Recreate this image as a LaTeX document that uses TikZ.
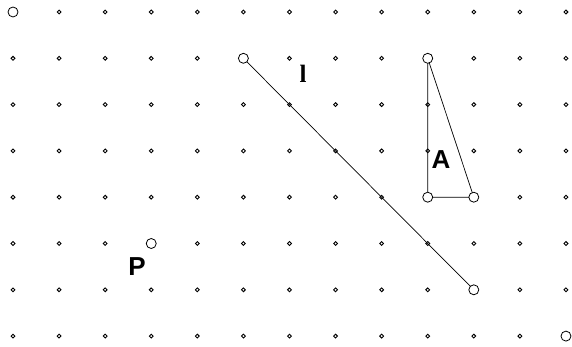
\documentclass[tikz,border=0pt]{standalone}
\usepackage{fontspec}
\usetikzlibrary{shapes.geometric}
\setmainfont{Liberation Serif}
\setsansfont{Liberation Sans}
\begin{document}
\begin{tikzpicture}[x=1pt,y=1pt,
  gdot/.style={diamond,draw=black,fill=white,line width=0.9pt,inner sep=0pt,minimum size=4.2pt},
  gpt/.style={circle,draw=black,fill=white,line width=0.8pt,inner sep=0pt,minimum size=10pt},
  seg/.style={draw=black,line width=0.7pt},
  sflab/.style={font=\sffamily\bfseries\fontsize{26}{26}\selectfont,inner sep=0pt},
  serlab/.style={font=\bfseries\fontsize{25}{25}\selectfont,inner sep=0pt}]
\useasboundingbox (0,0) rectangle (572,346);
\def\gx#1{13+46.08*#1}
\def\gy#1{346-12-46.3*#1}
\foreach \i in {0,...,12}{
  \foreach \j in {0,...,7}{
    \node[gdot] (d\i-\j) at ({\gx{\i}},{\gy{\j}}) {};
  }
}
\coordinate (cL1) at ({\gx{5}},{\gy{1}});
\coordinate (cL2) at ({\gx{10}},{\gy{6}});
\coordinate (cT1) at ({\gx{9}},{\gy{1}});
\coordinate (cT2) at ({\gx{9}},{\gy{4}});
\coordinate (cT3) at ({\gx{10}},{\gy{4}});
\draw[seg] (cL1) -- (cL2);
\draw[seg] (cT1) -- (cT2) -- (cT3) -- cycle;
\node[gpt] (p00) at ({\gx{0}},{\gy{0}}) {};
\node[gpt] (l1) at (cL1) {};
\node[gpt] (l2) at (cL2) {};
\node[gpt] (t1) at (cT1) {};
\node[gpt] (t2) at (cT2) {};
\node[gpt] (t3) at (cT3) {};
\node[gpt] (pP) at ({\gx{3}},{\gy{5}}) {};
\node[gpt] (p127) at ({\gx{12}},{\gy{7}}) {};
\node[serlab] (labl) at (303,346-74) {l};
\node[sflab] (labA) at (441,346-160) {A};
\node[sflab] (labP) at (137,346-267) {P};
\end{tikzpicture}
\end{document}
